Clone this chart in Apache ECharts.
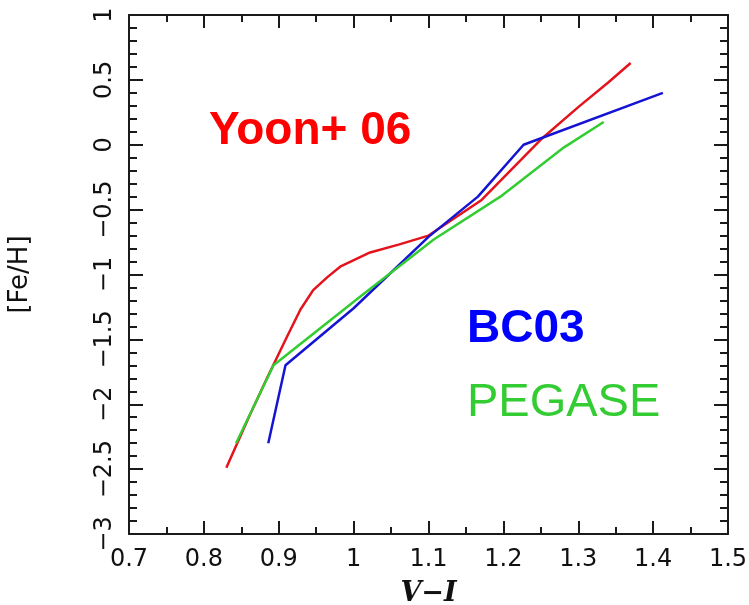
<!DOCTYPE html>
<html><head><meta charset="utf-8">
<script src="https://cdn.jsdelivr.net/npm/echarts@6/dist/echarts.min.js"></script>
<style>html,body{margin:0;padding:0;background:#fff}#c{width:749px;height:605px}</style>
</head><body><div id="c"></div>
<script>
const xTicks = [0.7, 0.8, 0.9, 1.0, 1.1, 1.2, 1.3, 1.4, 1.5];
const yTicks = [-3, -2.5, -2, -1.5, -1, -0.5, 0, 0.5, 1];
const yoon = [[0.830,-2.49],[0.860,-2.10],[0.885,-1.79],[0.911,-1.48],[0.929,-1.27],[0.946,-1.12],[0.965,-1.02],[0.982,-0.94],[1.022,-0.83],[1.060,-0.77],[1.100,-0.70],[1.170,-0.43],[1.250,0.04],[1.300,0.29],[1.340,0.48],[1.370,0.63]];
const bc03 = [[0.886,-2.30],[0.909,-1.70],[1.000,-1.26],[1.100,-0.71],[1.166,-0.40],[1.227,0.00],[1.413,0.40]];
const pegase = [[0.843,-2.30],[0.893,-1.70],[1.009,-1.17],[1.107,-0.73],[1.196,-0.40],[1.281,-0.02],[1.334,0.175]];
const labels = ['Yoon+ 06', 'BC03', 'PEGASE'];

const fmt = v => String(+v.toFixed(2)).replace('-', '\u2212');
const axisLine = {show: true, onZero: false, lineStyle: {color: '#1a1a1a', width: 2}};
function xa(pos, show) {
  return {type: 'value', position: pos, min: xTicks[0], max: xTicks[xTicks.length-1], interval: 0.1,
    axisLine: axisLine, splitLine: {show: false},
    axisTick: {show: true, inside: true, length: 13, lineStyle: {color: '#1a1a1a', width: 2}},
    minorTick: {show: true, splitNumber: 2, length: 7, lineStyle: {color: '#1a1a1a', width: 2}},
    axisLabel: {show: show, formatter: fmt, fontFamily: 'DejaVu Sans', fontSize: 24, color: '#111', margin: 14},
    name: show ? 'V\u2212I' : '', nameLocation: 'middle', nameGap: 46,
    nameTextStyle: {fontFamily: 'DejaVu Serif', fontStyle: 'italic', fontWeight: 'bold', fontSize: 27, color: '#111'}};
}
function ya(pos, show) {
  return {type: 'value', position: pos, min: yTicks[0], max: yTicks[yTicks.length-1], interval: 0.5,
    axisLine: axisLine, splitLine: {show: false},
    axisTick: {show: true, inside: true, length: 14, lineStyle: {color: '#1a1a1a', width: 2}},
    minorTick: {show: true, splitNumber: 5, length: 8, lineStyle: {color: '#1a1a1a', width: 2}},
    axisLabel: {show: show, rotate: 90, formatter: fmt, fontFamily: 'DejaVu Sans', fontSize: 24, color: '#111', margin: 12},
    name: show ? '[Fe/H]' : '', nameLocation: 'middle', nameGap: 96,
    nameTextStyle: {fontFamily: 'DejaVu Sans', fontSize: 26, color: '#111'}};
}
const chart = echarts.init(document.getElementById('c'));
const lineS = (name, data, color, sm) => ({name, type: 'line', data, showSymbol: false, symbol: 'none', smooth: sm,
  lineStyle: {color, width: 2.5}, animation: false, xAxisIndex: 0, yAxisIndex: 0});
chart.setOption({
  animation: false,
  grid: {left: 129, right: 21, top: 15, bottom: 71, containLabel: false, outerBoundsMode: 'none'},
  xAxis: [xa('bottom', true), xa('top', false)],
  yAxis: [ya('left', true), ya('right', false)],
  series: [lineS(labels[0], yoon, '#e4141c', false), lineS(labels[1], bc03, '#1414d2', false), lineS(labels[2], pegase, '#33cc33', false)],
  graphic: [
    {type: 'text', left: 209, top: 108, style: {text: labels[0], fill: '#ff0000', font: 'bold 46px "Liberation Sans"'}},
    {type: 'text', left: 467, top: 306, style: {text: labels[1], fill: '#0000ff', font: 'bold 46px "Liberation Sans"'}},
    {type: 'text', left: 467, top: 380, style: {text: labels[2], fill: '#33cc33', font: '47px "Liberation Sans"'}}
  ]
});
</script></body></html>
